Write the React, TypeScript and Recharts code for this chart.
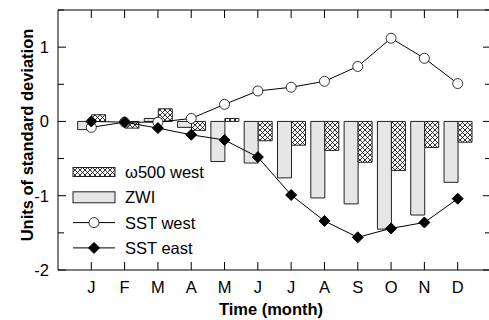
import { BarChart, Bar, Line, XAxis, YAxis, ReferenceLine } from 'recharts';

const monthKeys = ['Jan', 'Feb', 'Mar', 'Apr', 'May', 'Jun', 'Jul', 'Aug', 'Sep', 'Oct', 'Nov', 'Dec'];
const monthLabels = ['J', 'F', 'M', 'A', 'M', 'J', 'J', 'A', 'S', 'O', 'N', 'D'];
const zwi = [-0.11, 0, 0.04, -0.08, -0.54, -0.56, -0.76, -1.03, -1.11, -1.45, -1.26, -0.82];
const omegaWest = [0.09, -0.09, 0.17, -0.12, 0.04, -0.26, -0.32, -0.39, -0.55, -0.66, -0.35, -0.28];
const sstWest = [-0.08, -0.01, -0.01, 0.04, 0.23, 0.41, 0.46, 0.54, 0.74, 1.12, 0.85, 0.51];
const sstEast = [0, -0.01, -0.09, -0.18, -0.25, -0.48, -0.99, -1.34, -1.56, -1.44, -1.36, -1.04];
const yTicks = [-2, -1.5, -1, -0.5, 0, 0.5, 1, 1.5];

const data = monthKeys.map((m, i) => ({
  month: m,
  label: monthLabels[i],
  zwi: zwi[i],
  omega: omegaWest[i],
  sstWest: sstWest[i],
  sstEast: sstEast[i],
}));

const FONT = '"Liberation Sans", Arial, Helvetica, sans-serif';
const FS = 16.5;
const W = 492;
const H = 320;
const TOP = 10;
const BOTTOM = 270;
const LEFT = 58;
const RIGHT = 491;
const BAND = (RIGHT - LEFT) / 13;

const XTick = (props: any) => {
  const { x, payload } = props;
  const lbl = monthLabels[payload.index ?? monthKeys.indexOf(payload.value)];
  return (
    <g>
      <line x1={x} x2={x} y1={BOTTOM} y2={BOTTOM - 8} stroke="#000" />
      <line x1={x} x2={x} y1={TOP} y2={TOP + 8} stroke="#000" />
      <text x={x} y={293} textAnchor="middle" fontSize={FS} fontFamily={FONT} fill="#000">
        {lbl}
      </text>
    </g>
  );
};

const YTick = (props: any) => {
  const { y, payload } = props;
  const v = payload.value;
  const major = Number.isInteger(v);
  const len = major ? 8 : 6;
  return (
    <g>
      <line x1={LEFT} x2={LEFT + len} y1={y} y2={y} stroke="#000" />
      <line x1={RIGHT - len} x2={RIGHT} y1={y} y2={y} stroke="#000" />
      {major && (
        <text x={49} y={y + 6} textAnchor="end" fontSize={FS} fontFamily={FONT} fill="#000">
          {v}
        </text>
      )}
    </g>
  );
};

const OpenDot = (props: any) => {
  const { cx, cy } = props;
  if (cx == null || cy == null) return null;
  return <circle cx={cx} cy={cy} r={5} fill="#fff" stroke="#000" strokeWidth={0.8} />;
};

const Diamond = (props: any) => {
  const { cx, cy } = props;
  if (cx == null || cy == null) return null;
  const d = 5.5;
  return (
    <polygon
      points={`${cx},${cy - d} ${cx + d},${cy} ${cx},${cy + d} ${cx - d},${cy}`}
      fill="#000"
      stroke="#000"
    />
  );
};

const Hatch = ({ id }: { id: string }) => (
  <pattern id={id} patternUnits="userSpaceOnUse" width={5} height={5}>
    <rect width={5} height={5} fill="#fff" />
    <path d="M0,0 L5,5 M5,0 L0,5" stroke="#000" strokeWidth={0.8} />
  </pattern>
);

const legendRows = [
  { name: 'ω500 west', kind: 'hatch' },
  { name: 'ZWI', kind: 'gray' },
  { name: 'SST west', kind: 'open' },
  { name: 'SST east', kind: 'diamond' },
];

const LegendBox = () => (
  <svg
    width={220}
    height={110}
    style={{ position: 'absolute', left: 60, top: 155 }}
  >
    <defs>
      <Hatch id="hatchLegend" />
    </defs>
    {legendRows.map((r, i) => {
      const cy = 17 + i * 25.3;
      return (
        <g key={r.name}>
          {r.kind === 'hatch' && (
            <rect x={13} y={cy - 4.5} width={42} height={9} fill="url(#hatchLegend)" stroke="#222" />
          )}
          {r.kind === 'gray' && (
            <rect x={13} y={cy - 5.5} width={42} height={11} fill="#e6e6e6" stroke="#222" />
          )}
          {(r.kind === 'open' || r.kind === 'diamond') && (
            <line x1={13} x2={55} y1={cy} y2={cy} stroke="#000" />
          )}
          {r.kind === 'open' && <circle cx={34} cy={cy} r={5} fill="#fff" stroke="#000" strokeWidth={0.8} />}
          {r.kind === 'diamond' && <Diamond cx={34} cy={cy} />}
          <text x={65} y={cy + 6} fontSize={FS} fontFamily={FONT} fill="#000">
            {r.name}
          </text>
        </g>
      );
    })}
  </svg>
);

export default function App() {
  return (
    <div style={{ position: 'absolute', left: 0, top: 0, width: 489, height: 320, overflow: 'hidden' }}>
      <BarChart
        width={W}
        height={H}
        data={data}
        margin={{ top: TOP, right: W - RIGHT, bottom: 0, left: 0 }}
        barGap={0}
        barSize={14}
      >
        <defs>
          <Hatch id="hatchBar" />
        </defs>
        <XAxis
          dataKey="month"
          height={H - BOTTOM}
          padding={{ left: BAND / 2, right: BAND / 2 }}
          tickSize={0}
          tickMargin={0}
          tickLine={false}
          axisLine={{ stroke: '#000' }}
          interval={0}
          tick={<XTick />}
          label={() => (
            <text x={271} y={315} textAnchor="middle" fontSize={FS} fontWeight="bold" fontFamily={FONT} fill="#000">
              Time (month)
            </text>
          )}
        />
        <YAxis
          width={LEFT}
          domain={[-2, 1.5]}
          ticks={yTicks}
          interval={0}
          tickSize={0}
          tickMargin={0}
          tickLine={false}
          axisLine={{ stroke: '#000' }}
          tick={<YTick />}
          label={() => (
            <text
              x={0}
              y={0}
              transform="translate(33,135) rotate(-90)"
              textAnchor="middle"
              fontSize={FS}
              fontWeight="bold"
              fontFamily={FONT}
              fill="#000"
            >
              Units of standard deviation
            </text>
          )}
        />
        <ReferenceLine y={1.5} stroke="#000" />
        <Bar dataKey="zwi" name="ZWI" fill="#e6e6e6" stroke="#222" strokeWidth={1} isAnimationActive={false} />
        <Bar dataKey="omega" name="ω500 west" fill="url(#hatchBar)" stroke="#222" strokeWidth={1} isAnimationActive={false} />
        <Line
          dataKey="sstWest"
          name="SST west"
          stroke="#000"
          strokeWidth={1}
          dot={<OpenDot />}
          isAnimationActive={false}
        />
        <Line
          dataKey="sstEast"
          name="SST east"
          stroke="#000"
          strokeWidth={1}
          dot={<Diamond />}
          isAnimationActive={false}
        />
      </BarChart>
      <LegendBox />
    </div>
  );
}
